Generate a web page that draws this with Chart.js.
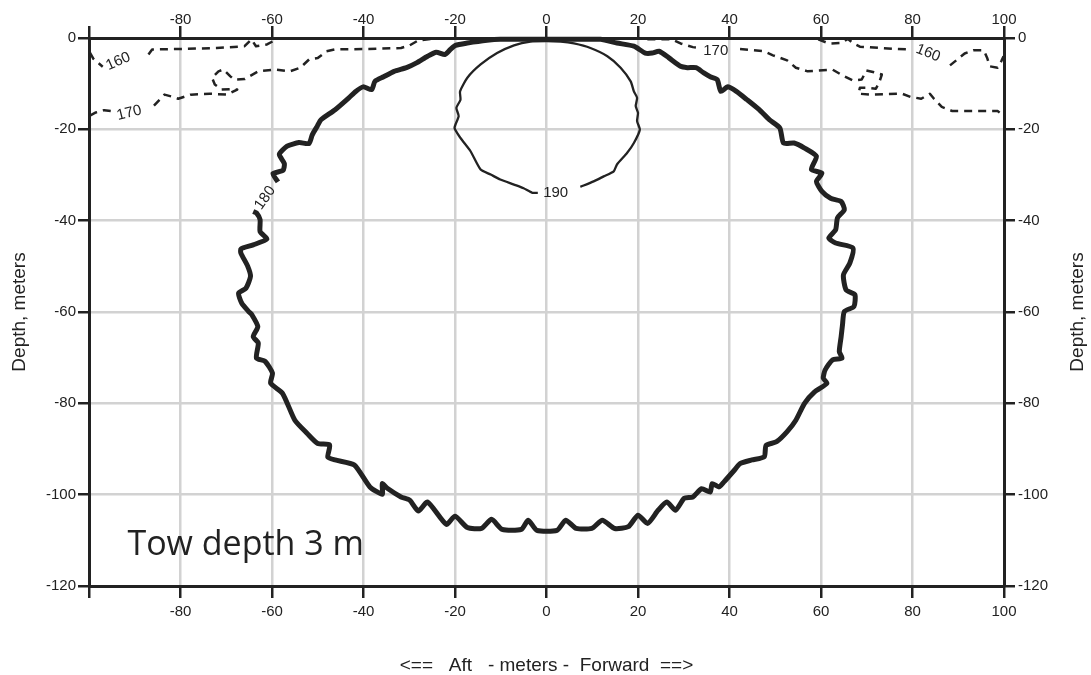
<!DOCTYPE html>
<html>
<head>
<meta charset="utf-8">
<title>Tow depth 3 m</title>
<script src="https://cdn.jsdelivr.net/npm/chart.js@4.4.0/dist/chart.umd.min.js"></script>
<style>
  html, body { margin: 0; padding: 0; background: #fff; }
  #wrap { width: 1091px; height: 675px; position: relative; }
</style>
</head>
<body>
<div id="wrap"><canvas id="contourChart"></canvas></div>
<script>
'use strict';

// ---- axes ----
const xTickValues = [-100, -80, -60, -40, -20, 0, 20, 40, 60, 80, 100];
const xTickLabels = ['', '-80', '-60', '-40', '-20', '0', '20', '40', '60', '80', '100'];
const yTickValues = [0, -20, -40, -60, -80, -100, -120];
const yTickLabels = ['0', '-20', '-40', '-60', '-80', '-100', '-120'];

// ---- contour lines, [x, y] in meters; null = gap (label or break) ----
const contour160 = [
  [-99.8, -3.2], [-99.0, -4.6], [-97.0, -6.3], null,
  [-87.0, -3.6], [-86.2, -2.5], [-79.7, -2.4], [-72.1, -2.2], [-66.0, -1.8], [-64.5, -0.3],
  [-63.5, -1.8], [-61.1, -1.4], [-58.8, -0.2], null,
  [59.4, -0.3], [61.7, -1.2], [64.4, -1.1], [65.9, -0.2], [67.0, -1.1], [68.5, -1.9],
  [76.2, -2.4], [79.6, -2.5], null,
  [88.2, -6.0], [91.4, -3.4], [93.3, -2.7], [95.6, -2.7], [96.3, -4.3], [96.9, -6.2],
  [98.6, -6.5], [99.4, -5.1], [99.9, -4.0]
];

const contour170 = [
  [-99.8, -17.0], [-98.5, -16.3], [-96.7, -15.8], [-95.0, -16.0], null,
  [-85.8, -14.8], [-83.5, -12.4], [-82.0, -12.8], [-80.5, -13.3], [-77.8, -12.4], [-73.6, -12.2],
  [-69.8, -12.4], [-67.6, -11.3], [-69.1, -11.2], [-71.0, -11.3], [-72.5, -10.2], [-73.1, -8.7],
  [-71.7, -7.3], [-70.6, -6.9], [-69.1, -8.4], [-68.3, -9.1], [-66.0, -9.0], [-63.0, -7.3],
  [-59.2, -6.9], [-56.1, -7.3], [-53.8, -6.5], [-51.9, -4.7], [-50.0, -4.4], [-48.1, -2.9],
  [-46.2, -2.5], [-39.4, -2.4], [-31.8, -2.2], [-29.9, -1.6], [-28.0, -0.5], [-24.9, -0.2],
  [-21.0, -0.1], null,
  [19.0, -0.1], [22.8, -0.3], [27.4, -0.3], [29.3, -1.2], [32.0, -2.0], [33.6, -2.2], null,
  [42.3, -2.4], [47.6, -2.9], [49.5, -3.8], [52.6, -4.9], [54.5, -6.5], [57.1, -7.3],
  [62.5, -6.9], [64.7, -8.2], [67.0, -9.3], [68.9, -9.1], [69.9, -7.1], [71.6, -7.5],
  [73.3, -8.0], [72.7, -9.8], [72.0, -11.1], [70.1, -10.9], [68.5, -10.9], [68.2, -12.2],
  [71.2, -12.4], [77.7, -12.2], [79.6, -12.9], [81.9, -13.3], [83.8, -12.2], [84.7, -13.3],
  [86.4, -15.1], [88.7, -16.0], [93.7, -16.0], [98.6, -16.0], [99.9, -17.0]
];

const contour180 = [
  [-58.7, -31.5], [-59.8, -29.7], [-57.6, -29.0], [-57.3, -27.5], [-58.4, -25.5], [-56.7, -23.7],
  [-54.1, -22.9], [-51.9, -23.1], [-51.2, -21.2], [-50.1, -19.3], [-49.3, -17.9], [-46.2, -15.7],
  [-43.2, -13.1], [-41.7, -11.7], [-40.1, -10.7], [-38.2, -11.3], [-37.5, -9.5], [-35.6, -8.5],
  [-33.3, -7.3], [-30.6, -6.5], [-28.3, -5.4], [-26.0, -4.0], [-24.1, -3.1], [-22.2, -3.6],
  [-21.0, -2.5], [-19.9, -1.6], [-17.3, -1.1], [-13.0, -0.5], [-10.1, -0.3], [0.0, -0.3],
  [11.8, -0.3], [15.4, -1.1], [19.1, -1.8], [21.6, -3.3], [23.1, -3.3], [24.6, -2.9],
  [26.7, -4.3], [29.3, -6.2], [30.8, -6.5], [32.7, -6.5], [34.3, -7.6], [35.8, -8.5],
  [37.3, -9.1], [38.1, -11.7], [39.6, -10.7], [41.5, -11.7], [43.8, -13.5], [46.5, -15.7],
  [48.7, -17.9], [51.0, -19.7], [51.8, -23.0], [54.1, -23.0], [56.4, -24.1], [59.0, -25.9],
  [57.9, -28.8], [60.2, -29.6], [59.0, -31.4], [60.2, -33.6], [62.1, -35.1], [64.4, -35.8],
  [65.1, -37.6], [63.6, -39.4], [63.2, -42.0], [61.7, -43.8], [63.2, -44.9], [67.0, -46.0],
  [66.3, -49.3], [64.9, -51.9], [65.5, -55.2], [67.4, -56.2], [67.2, -58.8], [65.1, -59.9],
  [64.7, -62.8], [64.4, -65.4], [64.0, -68.7], [64.6, -70.1], [62.5, -70.5], [60.9, -72.7],
  [60.5, -74.5], [61.3, -75.6], [58.6, -77.5], [56.4, -80.0], [54.5, -83.7], [52.6, -86.2],
  [50.3, -88.4], [48.0, -89.2], [47.6, -91.7], [44.9, -92.4], [42.3, -93.2], [41.1, -94.6],
  [38.8, -97.2], [37.7, -98.3], [36.2, -97.6], [35.8, -99.4], [33.9, -98.7], [32.0, -100.5],
  [30.1, -100.8], [28.2, -103.4], [26.3, -101.6], [24.4, -103.4], [22.1, -106.3], [20.0, -104.5],
  [17.9, -107.0], [14.9, -107.4], [12.2, -105.6], [9.9, -107.4], [6.5, -107.4], [4.2, -105.6],
  [2.3, -107.8], [-2.1, -107.8], [-4.0, -105.6], [-5.5, -107.6], [-9.7, -107.6], [-12.0, -105.4],
  [-14.2, -107.4], [-17.3, -107.2], [-20.0, -104.7], [-21.9, -106.5], [-26.0, -101.6], [-28.0, -103.6],
  [-29.9, -101.2], [-31.8, -100.5], [-34.8, -98.6], [-35.9, -97.6], [-35.9, -99.9], [-38.6, -98.3],
  [-42.0, -93.5], [-46.2, -92.4], [-47.8, -91.8], [-47.4, -89.1], [-50.0, -88.8], [-52.3, -86.6],
  [-55.0, -83.7], [-57.7, -77.8], [-60.3, -75.6], [-59.9, -73.4], [-61.5, -70.8], [-63.4, -70.1],
  [-63.0, -66.8], [-64.1, -65.4], [-63.1, -63.2], [-64.4, -60.6], [-65.1, -59.9], [-66.6, -58.1],
  [-67.3, -55.9], [-65.7, -54.8], [-64.7, -52.2], [-65.3, -50.0], [-66.8, -47.1], [-66.8, -46.2],
  [-64.1, -45.3], [-61.1, -44.0], [-62.6, -42.4], [-62.6, -39.8], [-63.4, -38.3], [-64.1, -38.0]
];

const contour190 = [
  [7.4, -32.6], [10.3, -31.4], [12.5, -30.3], [14.7, -29.2], [15.4, -27.7], [17.6, -25.2],
  [19.1, -23.0], [20.4, -20.1], [19.8, -18.2], [20.0, -16.4], [19.5, -14.9], [19.8, -13.1],
  [19.1, -11.7], [18.4, -9.5], [16.2, -6.5], [13.3, -4.0], [9.6, -2.2], [6.0, -1.2],
  [3.1, -0.8], [0.0, -0.7], [-3.5, -0.8], [-7.1, -1.6], [-10.8, -3.3], [-14.4, -5.8],
  [-17.3, -8.7], [-18.9, -11.7], [-18.8, -13.5], [-19.7, -15.3], [-19.2, -17.1], [-20.1, -19.7],
  [-18.8, -21.9], [-16.6, -24.8], [-14.4, -28.8], [-12.2, -29.9], [-10.1, -31.0], [-7.1, -32.1],
  [-5.0, -32.9], [-3.1, -33.9], [-1.9, -33.9]
];

// ---- contour labels ----
const labelText  = ['160', '170', '170', '160', '180', '190'];
const labelX     = [-93.6, -91.2, 37.0, 83.4, -61.5, 2.0];
const labelY     = [-5.1, -16.4, -2.9, -3.3, -35.0, -34.0];
const labelAngle = [-24, -14, 0, 22, -55, 0];

const noteText = 'Tow depth 3 m';
const noteX = -91.6;
const noteY = -113.3;

const INK = '#222';
const GRID = '#d2d2d2';
const TICK_FONT = { family: '"Liberation Sans", Arial, sans-serif', size: 15 };

function toPoints(list) {
  return list.map(p => (p ? { x: p[0], y: p[1] } : { x: null, y: null }));
}

function xLabel(v) { const i = xTickValues.indexOf(v); return i < 0 ? '' : xTickLabels[i]; }
function yLabel(v) { const i = yTickValues.indexOf(v); return i < 0 ? '' : yTickLabels[i]; }

function xAxis(position, pad, extra) {
  return Object.assign({
    type: 'linear',
    position: position,
    min: -100,
    max: 100,
    afterBuildTicks: s => { s.ticks = xTickValues.map(v => ({ value: v })); },
    border: { color: INK, width: 3 },
    ticks: { color: INK, font: TICK_FONT, padding: pad, maxRotation: 0, autoSkip: false, callback: xLabel }
  }, extra);
}

function yAxis(position, pad, extra) {
  return Object.assign({
    type: 'linear',
    position: position,
    min: -120,
    max: 0,
    afterBuildTicks: s => { s.ticks = yTickValues.map(v => ({ value: v })); },
    border: { color: INK, width: 3 },
    ticks: { color: INK, font: TICK_FONT, padding: pad, autoSkip: false, callback: yLabel }
  }, extra);
}

// labels, note and right axis title
const overlayText = {
  id: 'overlayText',
  afterDatasetsDraw(chart) {
    const { ctx, scales: { x, y }, chartArea } = chart;
    ctx.save();
    ctx.fillStyle = INK;
    ctx.textAlign = 'center';
    ctx.textBaseline = 'middle';
    ctx.font = '15px "Liberation Sans", Arial, sans-serif';
    labelText.forEach((t, i) => {
      ctx.save();
      ctx.translate(x.getPixelForValue(labelX[i]), y.getPixelForValue(labelY[i]));
      ctx.rotate(labelAngle[i] * Math.PI / 180);
      ctx.fillText(t, 0, 0);
      ctx.restore();
    });

    ctx.textAlign = 'left';
    ctx.textBaseline = 'alphabetic';
    ctx.font = '34px "Open Sans", sans-serif';
    ctx.fillText(noteText, x.getPixelForValue(noteX), y.getPixelForValue(noteY));

    ctx.save();
    ctx.translate(chart.width - 13, (chartArea.top + chartArea.bottom) / 2);
    ctx.rotate(-Math.PI / 2);
    ctx.textAlign = 'center';
    ctx.textBaseline = 'middle';
    ctx.font = '19px "Liberation Sans", Arial, sans-serif';
    ctx.fillText('Depth, meters', 0, 0);
    ctx.restore();
    ctx.restore();
  }
};

function lineSet(label, list, width, dash, tension) {
  return {
    label: label,
    data: toPoints(list),
    showLine: true,
    spanGaps: false,
    borderColor: INK,
    backgroundColor: INK,
    borderWidth: width,
    borderDash: dash || [],
    borderJoinStyle: 'round',
    borderCapStyle: 'butt',
    pointRadius: 0,
    pointHoverRadius: 0,
    tension: tension || 0,
    clip: false
  };
}

new Chart(document.getElementById('contourChart'), {
  type: 'scatter',
  data: {
    datasets: [
      lineSet('160', contour160, 2.5, [8, 6]),
      lineSet('170', contour170, 2.5, [8, 6]),
      lineSet('180', contour180, 5, null, 0.2),
      lineSet('190', contour190, 2.3, null, 0.2)
    ]
  },
  options: {
    responsive: true,
    maintainAspectRatio: false,
    animation: false,
    events: [],
    layout: { padding: 0 },
    plugins: {
      legend: { display: false },
      tooltip: { enabled: false }
    },
    scales: {
      x: xAxis('bottom', 5, {
        afterFit: s => { s.height = 89; },
        grid: { color: GRID, lineWidth: 2.5, tickColor: INK, tickWidth: 2.5, tickLength: 12 },
        title: {
          display: true,
          text: '<==   Aft   - meters -  Forward  ==>',
          color: INK,
          font: { family: '"Liberation Sans", Arial, sans-serif', size: 19, lineHeight: 1 },
          padding: { top: 0, bottom: 0 }
        }
      }),
      x2: xAxis('top', -3, {
        afterFit: s => { s.height = 38; },
        grid: { drawOnChartArea: false, color: INK, lineWidth: 2.5, tickLength: 12 }
      }),
      y: yAxis('left', 2, {
        afterFit: s => { s.width = 89; },
        grid: { color: GRID, lineWidth: 2.5, tickColor: INK, tickWidth: 2.5, tickLength: 11 },
        title: {
          display: true,
          text: 'Depth, meters',
          color: INK,
          font: { family: '"Liberation Sans", Arial, sans-serif', size: 19, lineHeight: 1 },
          padding: { top: 10, bottom: 0 }
        }
      }),
      y2: yAxis('right', 3, {
        afterFit: s => { s.width = 87; },
        grid: { drawOnChartArea: false, color: INK, lineWidth: 2.5, tickLength: 11 }
      })
    }
  },
  plugins: [overlayText]
});
</script>
</body>
</html>
